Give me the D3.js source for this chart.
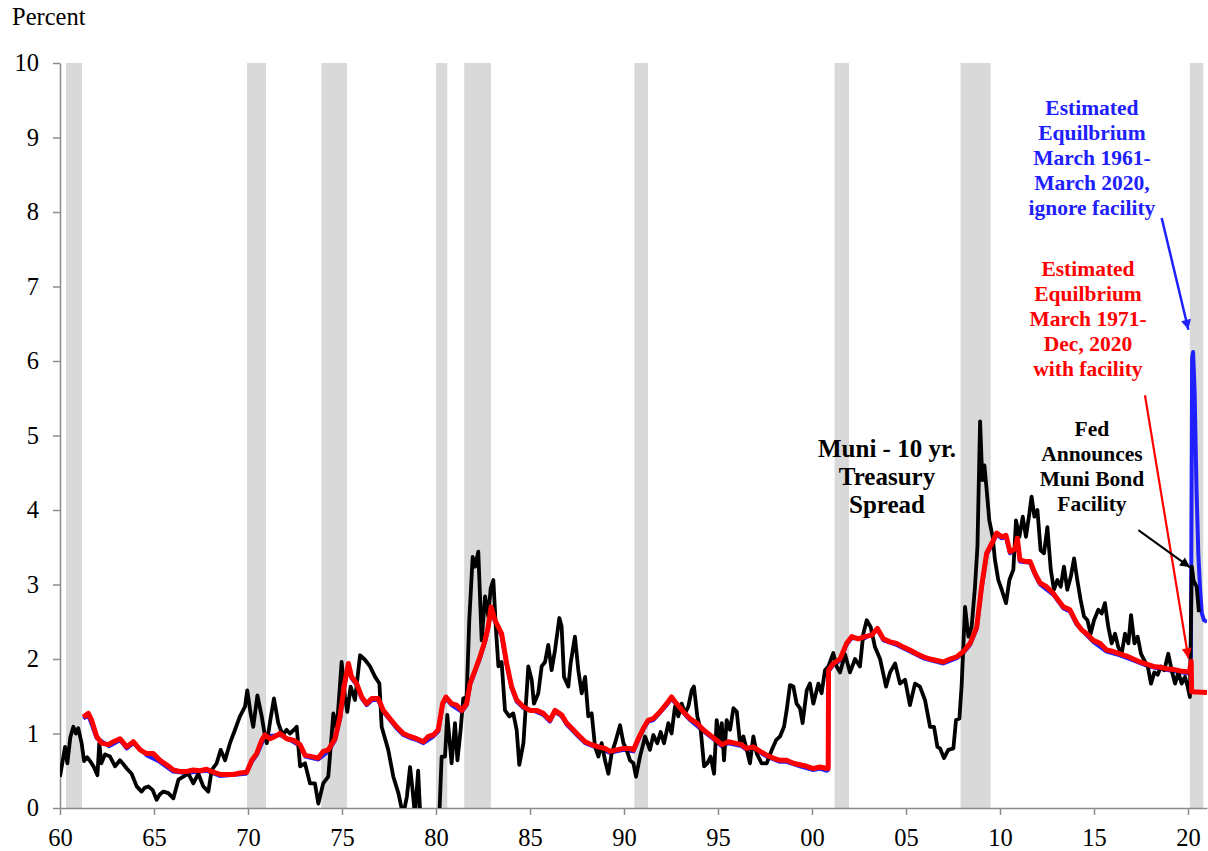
<!DOCTYPE html>
<html>
<head>
<meta charset="utf-8">
<script src="https://cdn.jsdelivr.net/npm/d3@7"></script>
<style>
  body { margin: 0; background: #fff; }
  svg { display: block; font-family: "Liberation Serif", "Times New Roman", serif; }
</style>
</head>
<body>
<div id="chart"></div>
<script>
// recession periods (start, end) in decimal years
const recessions = [
  [1960.32, 1961.17], [1969.95, 1970.96], [1973.9, 1975.27], [1980.0, 1980.6],
  [1981.5, 1982.92], [1990.55, 1991.28], [2001.2, 2001.97], [2007.9, 2009.5],
  [2020.1, 2020.81]
];

const yTicks = [0, 1, 2, 3, 4, 5, 6, 7, 8, 9, 10];
const xTickYears = [1960, 1965, 1970, 1975, 1980, 1985, 1990, 1995, 2000, 2005, 2010, 2015, 2020];

// Muni - 10 yr. Treasury spread, [year, percent]
const spread = [
  [1960.0,0.42],[1960.27,0.82],[1960.39,0.60],[1960.55,0.95],[1960.71,1.09],[1960.85,1.0],[1960.97,1.07],
  [1961.15,0.87],[1961.28,0.63],[1961.45,0.68],[1961.6,0.63],[1961.8,0.55],[1961.99,0.44],[1962.09,0.87],
  [1962.2,0.60],[1962.4,0.72],[1962.66,0.69],[1962.93,0.56],[1963.19,0.64],[1963.4,0.58],[1963.55,0.53],
  [1963.81,0.46],[1964.08,0.29],[1964.34,0.22],[1964.5,0.27],[1964.7,0.29],[1964.93,0.24],[1965.14,0.11],
  [1965.3,0.18],[1965.5,0.22],[1965.76,0.20],[1966.03,0.13],[1966.3,0.38],[1966.56,0.42],[1966.83,0.46],
  [1967.09,0.33],[1967.36,0.46],[1967.62,0.29],[1967.89,0.22],[1968.07,0.51],[1968.33,0.60],[1968.55,0.78],
  [1968.78,0.64],[1969.04,0.87],[1969.31,1.05],[1969.57,1.23],[1969.84,1.36],[1969.96,1.58],[1970.14,1.27],
  [1970.28,1.09],[1970.5,1.51],[1970.73,1.23],[1970.88,1.0],[1971.0,0.87],[1971.2,1.2],[1971.38,1.47],
  [1971.61,1.14],[1971.84,0.98],[1972.05,1.05],[1972.23,1.0],[1972.45,1.05],[1972.59,1.09],[1972.77,0.56],
  [1973.03,0.60],[1973.3,0.33],[1973.56,0.33],[1973.74,0.06],[1974.0,0.33],[1974.27,0.42],[1974.54,1.27],
  [1974.72,1.05],[1974.98,1.96],[1975.16,1.49],[1975.28,1.29],[1975.46,1.63],[1975.69,1.45],[1975.96,2.05],
  [1976.22,1.99],[1976.49,1.90],[1976.76,1.76],[1976.99,1.67],[1977.11,1.09],[1977.46,0.78],[1977.73,0.42],
  [1978.0,0.20],[1978.25,-0.1],[1978.45,0.15],[1978.62,0.55],[1978.75,0.25],[1978.88,-0.1],[1979.05,0.5],
  [1979.2,-0.3],[1979.5,-0.8],[1979.9,-0.6],[1980.16,-0.2],[1980.3,0.69],[1980.48,0.69],[1980.6,1.25],
  [1980.83,0.60],[1981.01,1.14],[1981.14,0.64],[1981.31,1.05],[1981.45,1.47],[1981.63,1.49],[1981.77,2.52],
  [1981.95,3.37],[1982.08,3.24],[1982.25,3.44],[1982.43,2.25],[1982.61,2.84],[1982.78,2.57],[1982.91,2.95],
  [1983.05,3.06],[1983.19,2.39],[1983.32,1.90],[1983.49,1.96],[1983.67,1.31],[1983.9,1.23],[1984.11,1.27],
  [1984.29,1.05],[1984.43,0.58],[1984.65,0.87],[1984.91,1.90],[1985.09,1.72],[1985.21,1.40],[1985.44,1.54],
  [1985.62,1.90],[1985.8,1.96],[1985.97,2.19],[1986.15,1.85],[1986.33,2.12],[1986.56,2.55],[1986.68,2.44],
  [1986.81,1.76],[1987.04,1.63],[1987.16,1.94],[1987.39,2.30],[1987.57,1.85],[1987.75,1.54],[1987.93,1.76],
  [1988.1,1.23],[1988.28,1.27],[1988.46,0.82],[1988.64,0.69],[1988.81,0.87],[1988.99,0.64],[1989.17,0.46],
  [1989.34,0.73],[1989.52,0.87],[1989.79,1.11],[1989.97,0.87],[1990.14,0.78],[1990.32,0.64],[1990.5,0.60],
  [1990.64,0.42],[1990.85,0.69],[1991.12,0.96],[1991.38,0.78],[1991.56,0.98],[1991.77,0.87],[1991.95,1.02],
  [1992.13,0.87],[1992.36,1.14],[1992.53,1.00],[1992.71,1.36],[1992.89,1.23],[1993.07,1.40],[1993.24,1.27],
  [1993.42,1.36],[1993.6,1.58],[1993.72,1.63],[1993.9,1.23],[1994.08,1.05],[1994.26,0.56],[1994.43,0.60],
  [1994.61,0.69],[1994.79,0.46],[1994.93,1.18],[1995.07,0.87],[1995.2,1.14],[1995.32,0.64],[1995.46,1.18],
  [1995.64,1.05],[1995.82,1.34],[1996.0,1.29],[1996.17,0.87],[1996.35,0.96],[1996.53,0.78],[1996.7,0.60],
  [1996.88,0.96],[1997.06,0.73],[1997.32,0.60],[1997.59,0.60],[1997.86,0.78],[1998.09,0.91],[1998.3,0.96],
  [1998.51,1.09],[1998.65,1.31],[1998.83,1.65],[1999.01,1.63],[1999.18,1.40],[1999.36,1.34],[1999.5,1.14],
  [1999.72,1.58],[1999.89,1.67],[2000.07,1.40],[2000.34,1.67],[2000.51,1.54],[2000.69,1.85],[2000.87,1.90],
  [2001.13,2.08],[2001.31,1.90],[2001.49,1.82],[2001.76,2.06],[2002.02,1.82],[2002.29,2.00],[2002.55,1.90],
  [2002.73,2.34],[2002.91,2.52],[2003.12,2.43],[2003.35,2.16],[2003.62,2.00],[2003.94,1.63],[2004.15,1.82],
  [2004.42,1.94],[2004.68,1.67],[2004.95,1.72],[2005.21,1.38],[2005.48,1.67],[2005.74,1.63],[2006.01,1.45],
  [2006.28,1.09],[2006.49,1.09],[2006.67,0.82],[2006.81,0.80],[2007.02,0.67],[2007.25,0.78],[2007.52,0.80],
  [2007.66,1.18],[2007.84,1.20],[2007.96,1.65],[2008.14,2.70],[2008.32,2.30],[2008.49,2.43],[2008.67,2.97],
  [2008.8,3.51],[2008.94,5.19],[2009.06,4.40],[2009.17,4.60],[2009.29,4.27],[2009.43,3.86],[2009.61,3.64],
  [2009.73,3.33],[2009.91,3.06],[2010.09,2.93],[2010.32,2.75],[2010.5,3.06],[2010.71,3.20],[2010.85,3.86],
  [2011.03,3.64],[2011.21,3.91],[2011.38,3.64],[2011.56,3.95],[2011.68,4.18],[2011.83,3.91],[2011.99,4.00],
  [2012.16,3.46],[2012.34,3.42],[2012.52,3.77],[2012.7,3.20],[2012.87,2.93],[2013.05,3.06],[2013.23,2.97],
  [2013.4,3.24],[2013.58,2.93],[2013.76,3.10],[2013.94,3.35],[2014.11,3.06],[2014.29,2.79],[2014.47,2.57],
  [2014.65,2.52],[2014.82,2.34],[2015.0,2.52],[2015.23,2.66],[2015.41,2.61],[2015.58,2.75],[2015.76,2.43],
  [2015.94,2.21],[2016.12,2.34],[2016.29,2.16],[2016.47,2.07],[2016.65,2.34],[2016.83,2.21],[2016.97,2.59],
  [2017.15,2.21],[2017.32,2.30],[2017.5,2.07],[2017.68,1.98],[2017.86,1.90],[2018.03,1.67],[2018.21,1.82],
  [2018.39,1.79],[2018.56,1.90],[2018.74,1.85],[2018.95,2.07],[2019.13,1.85],[2019.31,1.67],[2019.49,1.82],
  [2019.66,1.67],[2019.84,1.76],[2019.98,1.63],[2020.1,1.49],[2020.2,3.24],[2020.3,3.05],[2020.46,2.97],
  [2020.58,2.63]
];

// estimated equilibrium, with facility (red)
const eqFacility = [
  [1961.24,1.22],[1961.51,1.27],[1961.68,1.18],[1961.95,0.96],[1962.22,0.87],[1962.57,0.85],[1962.84,0.89],
  [1963.19,0.93],[1963.55,0.82],[1963.9,0.89],[1964.26,0.78],[1964.61,0.73],[1964.96,0.73],[1965.32,0.64],
  [1965.67,0.58],[1966.03,0.51],[1966.38,0.49],[1966.74,0.49],[1967.09,0.51],[1967.45,0.50],[1967.8,0.52],
  [1968.16,0.48],[1968.51,0.45],[1968.87,0.45],[1969.22,0.45],[1969.57,0.47],[1969.93,0.48],[1970.2,0.64],
  [1970.46,0.73],[1970.73,0.91],[1970.9,0.98],[1971.17,0.93],[1971.44,0.96],[1971.7,1.00],[1972.06,0.93],
  [1972.41,0.91],[1972.77,0.85],[1973.03,0.71],[1973.39,0.69],[1973.74,0.67],[1974.0,0.76],[1974.27,0.78],
  [1974.63,0.93],[1974.89,1.22],[1975.11,1.63],[1975.34,1.94],[1975.51,1.76],[1975.78,1.67],[1976.05,1.49],
  [1976.31,1.40],[1976.58,1.47],[1976.93,1.47],[1977.2,1.31],[1977.55,1.20],[1977.91,1.09],[1978.26,1.00],
  [1978.62,0.96],[1978.97,0.93],[1979.33,0.89],[1979.59,0.96],[1979.86,0.98],[1980.12,1.05],[1980.35,1.40],
  [1980.53,1.49],[1980.83,1.40],[1981.1,1.38],[1981.37,1.31],[1981.63,1.40],[1981.81,1.67],[1982.08,1.85],
  [1982.34,2.03],[1982.61,2.25],[1982.78,2.44],[1982.93,2.70],[1983.14,2.52],[1983.49,2.34],[1983.76,1.94],
  [1984.02,1.63],[1984.29,1.45],[1984.65,1.36],[1985.0,1.31],[1985.35,1.31],[1985.71,1.27],[1986.06,1.18],
  [1986.33,1.31],[1986.68,1.25],[1986.95,1.14],[1987.22,1.07],[1987.57,0.98],[1987.93,0.89],[1988.28,0.85],
  [1988.64,0.82],[1988.99,0.80],[1989.26,0.76],[1989.61,0.78],[1989.97,0.80],[1990.32,0.80],[1990.5,0.78],
  [1990.76,0.93],[1991.03,1.07],[1991.29,1.18],[1991.56,1.20],[1991.91,1.29],[1992.27,1.40],[1992.53,1.49],
  [1992.8,1.40],[1993.16,1.29],[1993.51,1.20],[1993.87,1.14],[1994.22,1.05],[1994.57,0.98],[1994.93,0.91],
  [1995.2,0.85],[1995.55,0.89],[1995.9,0.87],[1996.26,0.85],[1996.52,0.80],[1996.88,0.82],[1997.24,0.76],
  [1997.59,0.71],[1997.94,0.67],[1998.3,0.64],[1998.65,0.64],[1999.01,0.60],[1999.36,0.58],[1999.72,0.56],
  [2000.07,0.53],[2000.43,0.55],[2000.78,0.53],[2000.86,0.53],[2000.88,1.85],[2001.13,1.94],[2001.49,2.00],
  [2001.84,2.21],[2002.11,2.30],[2002.46,2.27],[2002.82,2.30],[2003.17,2.32],[2003.48,2.41],[2003.8,2.27],
  [2004.15,2.23],[2004.5,2.21],[2004.86,2.16],[2005.21,2.12],[2005.57,2.07],[2005.92,2.03],[2006.28,2.00],
  [2006.63,1.98],[2006.99,1.96],[2007.34,2.00],[2007.7,2.03],[2008.05,2.10],[2008.41,2.21],[2008.76,2.43],
  [2009.02,2.97],[2009.29,3.42],[2009.56,3.55],[2009.82,3.69],[2010.09,3.64],[2010.32,3.66],[2010.53,3.44],
  [2010.8,3.48],[2010.92,3.62],[2011.06,3.33],[2011.33,3.31],[2011.6,3.31],[2011.86,3.15],[2012.13,3.02],
  [2012.48,2.97],[2012.84,2.88],[2013.1,2.79],[2013.37,2.70],[2013.72,2.66],[2014.08,2.48],[2014.35,2.39],
  [2014.61,2.34],[2014.96,2.25],[2015.32,2.21],[2015.67,2.12],[2016.03,2.10],[2016.38,2.07],[2016.74,2.04],
  [2017.09,2.00],[2017.45,1.96],[2017.8,1.93],[2018.16,1.90],[2018.51,1.89],[2018.87,1.87],[2019.22,1.86],
  [2019.58,1.84],[2019.93,1.83],[2020.07,1.82],[2020.17,1.97],[2020.19,1.56],[2021.01,1.55]
];

// estimated equilibrium, ignoring facility (blue)
const eqNoFacility = [
  [1961.24,1.20],[1961.5,1.25],[1961.95,0.94],[1962.6,0.83],[1963.2,0.91],[1963.55,0.80],[1963.9,0.87],
  [1964.6,0.71],[1965.3,0.62],[1966.0,0.49],[1966.7,0.47],[1967.8,0.50],[1968.5,0.43],[1969.9,0.46],
  [1970.2,0.62],[1970.46,0.71],[1970.9,0.96],[1971.7,0.98],[1972.4,0.89],[1972.77,0.83],[1973.05,0.69],
  [1973.74,0.65],[1974.27,0.76],[1974.63,0.91],[1974.9,1.20],[1975.11,1.61],[1975.34,1.92],[1975.51,1.74],
  [1975.78,1.65],[1976.05,1.47],[1976.31,1.38],[1976.6,1.45],[1976.93,1.45],[1977.2,1.29],[1977.55,1.18],
  [1977.9,1.07],[1978.26,0.98],[1978.62,0.94],[1979.0,0.91],[1979.33,0.87],[1979.86,0.96],[1980.12,1.03],
  [1980.35,1.38],[1980.53,1.47],[1980.83,1.38],[1981.37,1.29],[1981.63,1.38],[1981.81,1.65],[1982.08,1.83],
  [1982.34,2.01],[1982.61,2.23],[1982.78,2.42],[1982.93,2.66],[1983.14,2.50],[1983.49,2.31],[1983.76,1.92],
  [1984.02,1.61],[1984.29,1.43],[1984.65,1.34],[1985.35,1.29],[1985.71,1.25],[1986.06,1.16],[1986.33,1.29],
  [1986.68,1.23],[1986.95,1.12],[1987.57,0.96],[1987.93,0.87],[1988.64,0.80],[1989.26,0.74],[1989.97,0.78],
  [1990.5,0.76],[1990.76,0.91],[1991.03,1.05],[1991.29,1.16],[1991.56,1.18],[1992.27,1.38],[1992.53,1.47],
  [1992.8,1.38],[1993.51,1.18],[1994.22,1.03],[1994.93,0.89],[1995.2,0.83],[1995.55,0.87],[1996.26,0.83],
  [1996.52,0.78],[1996.88,0.80],[1997.59,0.69],[1998.3,0.62],[1998.65,0.62],[1999.36,0.56],[2000.07,0.51],
  [2000.43,0.53],[2000.78,0.50],[2000.86,0.51],[2000.88,1.83],[2001.13,1.92],[2001.49,1.98],[2001.84,2.19],
  [2002.11,2.28],[2002.82,2.28],[2003.48,2.39],[2003.8,2.25],[2004.5,2.19],[2005.21,2.10],[2005.92,2.01],
  [2006.99,1.94],[2007.7,2.01],[2008.05,2.08],[2008.41,2.19],[2008.76,2.41],[2009.02,2.95],[2009.29,3.40],
  [2009.56,3.53],[2009.82,3.67],[2010.09,3.62],[2010.32,3.64],[2010.53,3.42],[2010.8,3.46],[2010.92,3.60],
  [2011.06,3.31],[2011.6,3.29],[2011.86,3.13],[2012.13,3.00],[2012.84,2.86],[2013.37,2.68],[2013.72,2.64],
  [2014.08,2.46],[2014.61,2.32],[2014.96,2.23],[2015.67,2.10],[2016.38,2.05],[2017.09,1.98],[2017.8,1.91],
  [2018.51,1.87],[2019.22,1.84],[2019.93,1.81],[2020.12,1.80],[2020.15,1.82],[2020.22,6.05],[2020.27,6.12],
  [2020.35,5.60],[2020.45,4.30],[2020.55,3.40],[2020.64,2.95],[2020.73,2.62],[2020.85,2.52],[2021.01,2.50]
];

const width = 1208, height = 851;
const margin = { top: 63, right: 1, bottom: 43, left: 60 };

const x = d3.scaleLinear().domain([1960, 2021.01]).range([margin.left, width - margin.right]);
const y = d3.scaleLinear().domain([0, 10]).range([height - margin.bottom, margin.top]);

const svg = d3.select("#chart").append("svg")
  .attr("width", width)
  .attr("height", height);

svg.append("defs").append("clipPath").attr("id", "plot-clip")
  .append("rect")
  .attr("x", margin.left).attr("y", margin.top)
  .attr("width", width - margin.left - margin.right)
  .attr("height", height - margin.top - margin.bottom);

// recession shading
svg.append("g").selectAll("rect")
  .data(recessions)
  .enter().append("rect")
  .attr("x", d => x(d[0]))
  .attr("width", d => x(d[1]) - x(d[0]))
  .attr("y", y(10))
  .attr("height", y(0) - y(10))
  .attr("fill", "#d9d9d9");

// axes
const axisColor = "#8c8c8c";
svg.append("g")
  .attr("transform", "translate(" + margin.left + ",0)")
  .call(d3.axisLeft(y).tickValues(yTicks).tickSize(7).tickSizeOuter(0).tickPadding(14))
  .call(g => g.selectAll("path, line").attr("stroke", axisColor).attr("stroke-width", 1.5))
  .call(g => g.selectAll("text").attr("font-size", 24.5).attr("fill", "#000")
    .attr("font-family", "'Liberation Serif', serif"));

svg.append("g")
  .attr("transform", "translate(0," + y(0) + ")")
  .call(d3.axisBottom(x).tickValues(xTickYears).tickSize(7).tickSizeOuter(0).tickPadding(14)
    .tickFormat(d => String(d % 100).padStart(2, "0")))
  .call(g => g.selectAll("path, line").attr("stroke", axisColor).attr("stroke-width", 1.5))
  .call(g => g.selectAll("text").attr("font-size", 24.5).attr("fill", "#000")
    .attr("font-family", "'Liberation Serif', serif"));

svg.append("text")
  .attr("x", 12).attr("y", 25)
  .attr("font-size", 24.5)
  .text("Percent");

// series
const line = d3.line().x(d => x(d[0])).y(d => y(d[1]));
const lines = svg.append("g").attr("clip-path", "url(#plot-clip)");

lines.append("path").datum(eqNoFacility)
  .attr("d", line).attr("fill", "none")
  .attr("stroke", "#2020ff").attr("stroke-width", 4).attr("stroke-linejoin", "round");

lines.append("path").datum(spread)
  .attr("d", line).attr("fill", "none")
  .attr("stroke", "#000").attr("stroke-width", 3.8).attr("stroke-linejoin", "round");

lines.append("path").datum(eqFacility)
  .attr("d", line).attr("fill", "none")
  .attr("stroke", "#ff0000").attr("stroke-width", 5).attr("stroke-linejoin", "round");

// annotations
function label(textLines, year, value, color, size, lineHeight) {
  const t = svg.append("text")
    .attr("x", x(year)).attr("y", y(value))
    .attr("text-anchor", "middle")
    .attr("font-weight", "bold")
    .attr("font-size", size)
    .attr("fill", color);
  textLines.forEach((s, i) => {
    t.append("tspan").attr("x", x(year)).attr("dy", i === 0 ? 0 : lineHeight).text(s);
  });
}

label(["Muni - 10 yr.", "Treasury", "Spread"], 2003.99, 4.71, "#000", 25, 28);
label(["Estimated", "Equilbrium", "March 1961-", "March 2020,", "ignore facility"], 2014.89, 9.30, "#2020ff", 21.5, 25);
label(["Estimated", "Equilbrium", "March 1971-", "Dec, 2020", "with facility"], 2014.68, 7.14, "#ff0000", 21.5, 25);
label(["Fed", "Announces", "Muni Bond", "Facility"], 2014.89, 4.99, "#000", 21.5, 25);

const defs = svg.select("defs");
function arrow(id, color, from, to, w) {
  defs.append("marker").attr("id", id)
    .attr("viewBox", "0 0 10 10").attr("refX", 10).attr("refY", 5)
    .attr("markerUnits", "userSpaceOnUse")
    .attr("markerWidth", 12).attr("markerHeight", 10)
    .attr("orient", "auto")
    .append("path").attr("d", "M0,0 L10,5 L0,10 Z").attr("fill", color);
  svg.append("line")
    .attr("x1", x(from[0])).attr("y1", y(from[1]))
    .attr("x2", x(to[0])).attr("y2", y(to[1]))
    .attr("stroke", color).attr("stroke-width", w)
    .attr("marker-end", "url(#" + id + ")");
}

arrow("arrow-blue", "#2020ff", [2018.6, 7.92], [2020.02, 6.42], 2.5);
arrow("arrow-red", "#ff0000", [2017.71, 5.54], [2020.02, 2.01], 2.2);
arrow("arrow-black", "#000", [2017.36, 3.73], [2020.11, 3.23], 2);
</script>
</body>
</html>
